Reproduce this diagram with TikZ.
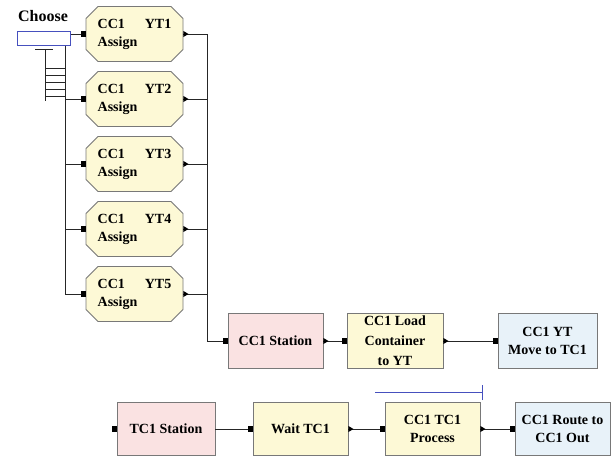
\documentclass[tikz,border=0pt]{standalone}
\usepackage{fontspec}
\setmainfont{Liberation Serif}
\usetikzlibrary{shapes.misc}
\definecolor{cream}{RGB}{253,249,214}
\definecolor{pinkfill}{RGB}{250,226,226}
\definecolor{bluefill}{RGB}{232,242,249}
\definecolor{boxborder}{RGB}{120,120,120}
\definecolor{choosecol}{RGB}{70,80,190}
\tikzset{
  boxtext/.style={font=\fontsize{14}{18}\selectfont\bfseries, text=black},
  ytbox/.style={chamfered rectangle, chamfered rectangle xsep=6pt, chamfered rectangle ysep=6pt,
     draw=boxborder, line width=0.9pt, fill=cream, minimum width=97pt, minimum height=55pt,
     inner sep=0pt, align=left, boxtext},
  procbox/.style={rectangle, draw=boxborder, line width=0.9pt, minimum width=96pt,
     minimum height=55pt, inner sep=0pt, align=center, boxtext},
  pinkbox/.style={procbox, fill=pinkfill},
  creambox/.style={procbox, fill=cream},
  bluebox/.style={procbox, fill=bluefill},
  link/.style={line width=1pt, black!85},
}
\newcommand\inport[1]{\fill[black] ([xshift=-5pt,yshift=-2.6pt]#1.west) rectangle ++(5pt,5.2pt);}
\newcommand\outport[1]{\fill[black] ([yshift=3pt]#1.east) -- ++(5pt,-3pt) -- ++(-5pt,-3pt) -- cycle;}
\begin{document}
\begin{tikzpicture}[x=1pt,y=-1pt]
\useasboundingbox[fill=white] (0,0) rectangle (616,458);
% Choose
\node[font=\fontsize{16}{18}\selectfont\bfseries] (chooselbl) at (43,16) {Choose};
\node[draw=choosecol, line width=1pt, fill=white, minimum width=53pt, minimum height=14pt, inner sep=0pt] (choosebox) at (43.5,38) {};
% YT boxes
\node[ytbox] (yt1) at (134.5,34) {CC1\hspace{20pt}YT1\\Assign};
\node[ytbox] (yt2) at (134.5,99) {CC1\hspace{20pt}YT2\\Assign};
\node[ytbox] (yt3) at (134.5,164) {CC1\hspace{20pt}YT3\\Assign};
\node[ytbox] (yt4) at (134.5,229) {CC1\hspace{20pt}YT4\\Assign};
\node[ytbox] (yt5) at (134.5,294) {CC1\hspace{20pt}YT5\\Assign};
% first row
\node[pinkbox, minimum width=95pt] (cc1st) at (275.5,341) {CC1 Station};
\node[creambox, font=\fontsize{14}{20}\selectfont\bfseries] (load) at (395,341) {CC1 Load\\Container\\to YT};
\node[bluebox, minimum width=99pt] (move) at (547.5,341) {CC1 YT\\Move to TC1};
% second row
\node[pinkbox, minimum width=98pt, minimum height=53pt] (tc1st) at (166,429) {TC1 Station};
\node[creambox, minimum width=95pt, minimum height=53pt] (wait) at (300.5,429) {Wait TC1};
\node[creambox, minimum width=95pt, minimum height=53pt] (proc) at (432.5,429) {CC1 TC1\\Process};
\node[bluebox, minimum width=95pt, minimum height=53pt] (route) at (562.5,429) {CC1 Route to\\CC1 Out};
% bus coordinates
\coordinate (lbus) at (65,0);
\coordinate (rbus) at (207,0);
\coordinate (comb) at (45,0);
% choose decoration (comb)
\draw[link] (35,49) -- (53,49);
\draw[link] (comb |- 0,49) -- (comb |- 0,101);
\foreach \yy in {68,75,82,89,96} \draw[link] (comb |- 0,\yy) -- (lbus |- 0,\yy);
% left bus
\draw[link] (choosebox.east |- yt1.west) -- (yt1.west);
\draw[link] (choosebox.south -| lbus) |- (yt5.west);
\foreach \n in {yt2,yt3,yt4} \draw[link] (lbus |- \n.west) -- (\n.west);
% right bus
\foreach \n in {yt2,yt3,yt4,yt5} \draw[link] (\n.east) -- (rbus |- \n.east);
\draw[link] (yt1.east) -- (rbus |- yt1.east) -- (rbus |- cc1st.west) -- (cc1st.west);
% rows
\draw[link] (cc1st.east) -- (load.west);
\draw[link] (load.east) -- (move.west);
\draw[link] (tc1st.east) -- (wait.west);
\draw[link] (wait.east) -- (proc.west);
\draw[link] (proc.east) -- (route.west);
% blue marker line
\coordinate (bl) at (375,392);
\coordinate (br) at (482,392);
\draw[choosecol, line width=1pt] (bl) -- (br);
\draw[choosecol, line width=1pt] ([yshift=-8pt]br) -- ([yshift=7pt]br);
% ports
\foreach \n in {yt1,yt2,yt3,yt4,yt5,cc1st,load,move,tc1st,wait,proc,route} {\inport{\n}}
\foreach \n in {yt1,yt2,yt3,yt4,yt5,cc1st,load,wait,proc} {\outport{\n}}
\end{tikzpicture}
\end{document}
